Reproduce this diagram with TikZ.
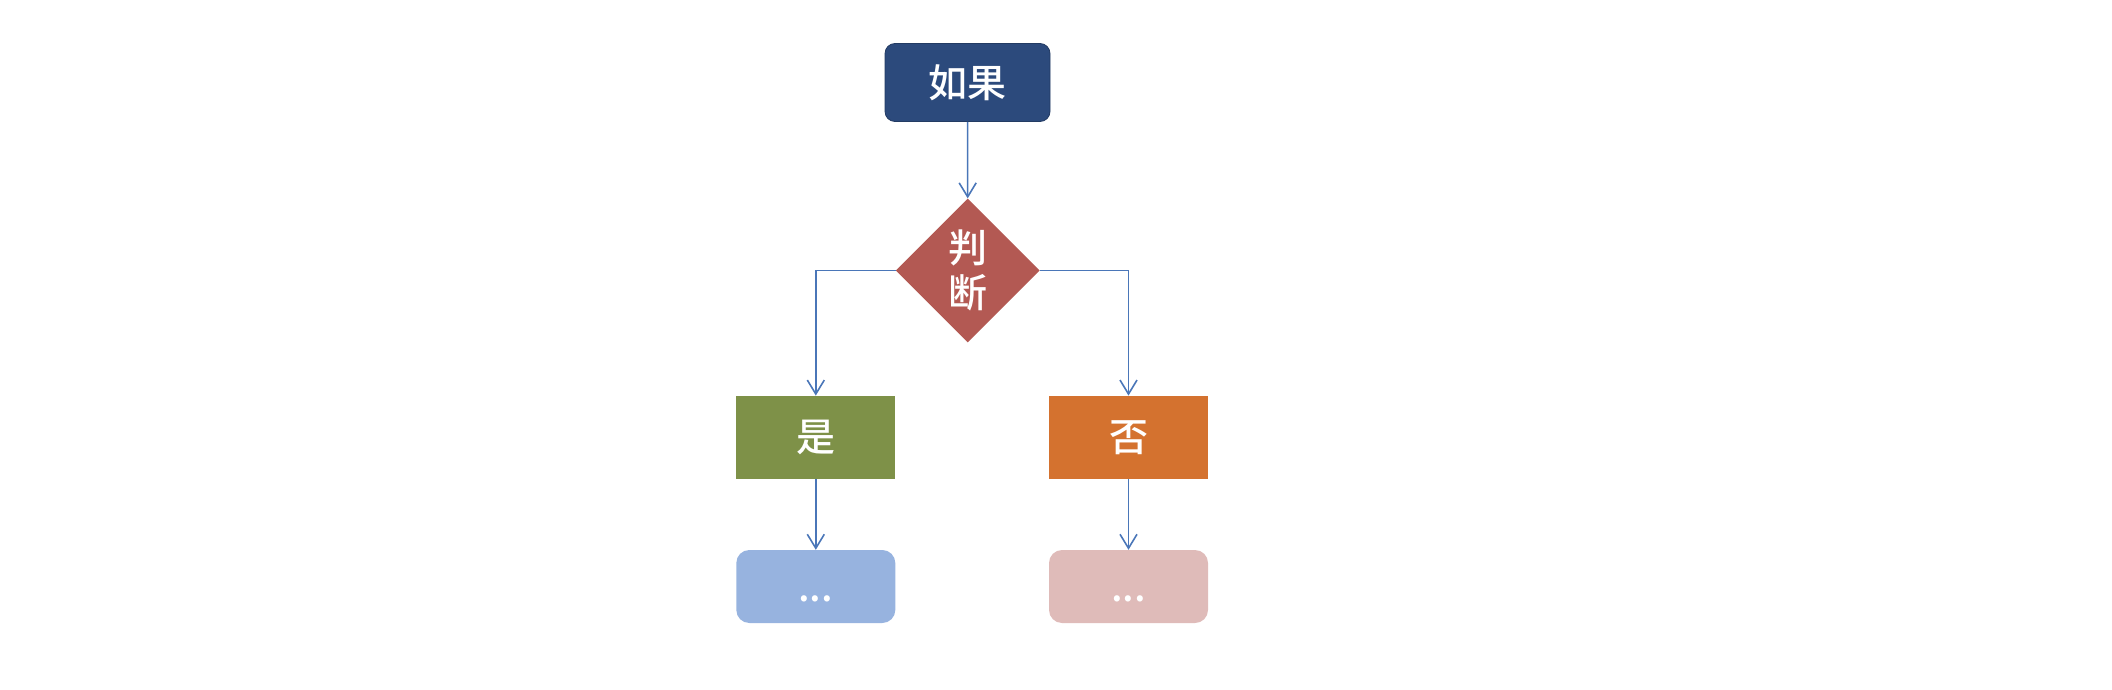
\documentclass[tikz,border=0pt]{standalone}
\usepackage{fontspec}
\setmainfont{Noto Sans CJK SC Medium}
\usetikzlibrary{shapes.geometric,arrows.meta}
\definecolor{topc}{HTML}{2C4A7C}
\definecolor{diac}{HTML}{B35953}
\definecolor{yesc}{HTML}{7E9148}
\definecolor{noc}{HTML}{D4722F}
\definecolor{yesdc}{HTML}{97B3DF}
\definecolor{nodc}{HTML}{DFBBB9}
\definecolor{linec}{HTML}{4A76B8}
\tikzset{
  base/.style={text=white, inner sep=0pt, font=\fontsize{39}{45}\selectfont},
  topbox/.style={base, fill=topc, draw=topc!80!black, line width=0.8pt, rounded corners=10pt, minimum width=165pt, minimum height=78pt},
  decbox/.style={base, shape=diamond, fill=diac, minimum width=144pt, minimum height=144pt, align=center},
  resbox/.style={base, minimum width=159pt, minimum height=83pt},
  endbox/.style={base, rounded corners=13pt, minimum width=159pt, minimum height=73pt},
  conn/.style={draw=linec, line width=1.6pt, -{Straight Barb[length=14pt,width=17pt,line width=1.6pt]}}
}
\begin{document}
\begin{tikzpicture}[x=1pt,y=-1pt]
\useasboundingbox (0,0) rectangle (2112,690);
\node[topbox] (top) at (967.5,82.5) {如果};
\node[decbox] (dec) at (967.8,270.5) {判\\断};
\node[resbox, fill=yesc] (yes) at (815.8,437.3) {是};
\node[resbox, fill=noc] (no) at (1128.5,437.3) {否};
\node[endbox, fill=yesdc] (yesd) at (815.8,586.5) {\vphantom{如}...};
\node[endbox, fill=nodc] (nod) at (1128.5,586.5) {\vphantom{如}...};
\draw[conn] (top) -- (dec);
\draw[conn] (dec.west) -| (yes.north);
\draw[conn] (dec.east) -| (no.north);
\draw[conn] (yes) -- (yesd);
\draw[conn] (no) -- (nod);
\end{tikzpicture}
\end{document}
